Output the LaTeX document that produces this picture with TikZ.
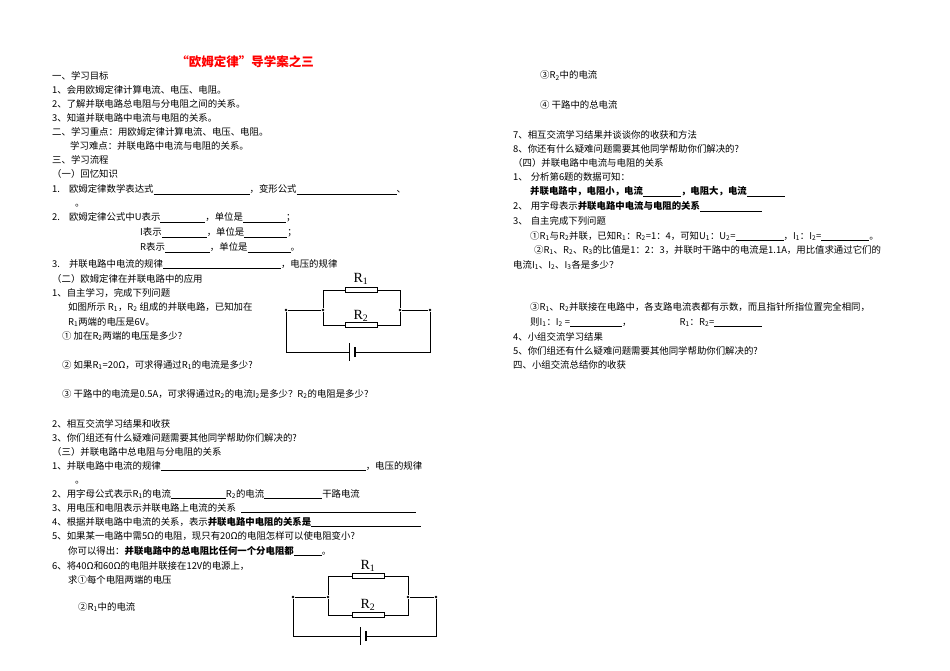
\documentclass[tikz,border=0pt]{standalone}
\usepackage{fontspec}
\setmainfont{Noto Sans CJK SC}
\newfontfamily\rfont{Liberation Serif}
\newcommand{\ssb}[1]{\textsubscript{#1}}
\newcommand{\bl}[1]{\rule[-1.5pt]{#1pt}{0.5pt}}
\newcommand{\T}[4]{\node[tx] (#1) at (#2,#3) {#4};}
\begin{document}
\begin{tikzpicture}[x=1pt,y=-1pt,
 tx/.style={anchor=base west,inner sep=0pt,font=\fontsize{9.4}{10}\selectfont},
 res/.style={draw,thick,fill=white,minimum width=32pt,minimum height=5pt,inner sep=0pt},
 dot/.style={circle,fill,inner sep=1pt},
 rl/.style={font=\rfont\fontsize{14}{14}\selectfont,inner sep=0pt},
 wire/.style={line width=0.8pt}]
\useasboundingbox (0,0) rectangle (950,671);
\node[font=\bfseries\fontsize{12.5}{13}\selectfont,text=red] (title) at (245,62) {“欧姆定律”导学案之三};
\T{a1}{52}{80}{一、学习目标}
\T{a2}{52}{94}{1、会用欧姆定律计算电流、电压、电阻。}
\T{a3}{52}{108}{2、了解并联电路总电阻与分电阻之间的关系。}
\T{a4}{52}{122}{3、知道并联电路中电流与电阻的关系。}
\T{a5}{52}{136}{二、学习重点：用欧姆定律计算电流、电压、电阻。}
\T{a6}{70}{150}{学习难点：并联电路中电流与电阻的关系。}
\T{a7}{52}{164}{三、学习流程}
\T{a8}{52}{178}{（一）回忆知识}
\T{a9}{52}{193}{1.\hspace{9pt}欧姆定律数学表达式\bl{96}，变形公式\bl{100}、}
\T{a10}{75}{207}{。}
\T{a11}{52}{221}{2.\hspace{9pt}欧姆定律公式中U表示\bl{45}，单位是\bl{43}；}
\T{a12}{140}{236}{I表示\bl{45}，单位是\bl{43}；}
\T{a13}{140}{251}{R表示\bl{45}，单位是\bl{43}。}
\T{a14}{52}{267}{3.\hspace{9pt}并联电路中电流的规律\bl{118}，电压的规律}
\T{a15}{52}{282}{（二）欧姆定律在并联电路中的应用}
\T{a16}{52}{296}{1、自主学习，完成下列问题}
\T{a17}{68}{310}{如图所示 R\ssb1，R\ssb2 组成的并联电路，已知加在}
\T{a18}{68}{325}{R\ssb1两端的电压是6V。}
\T{a19}{62}{339}{① 加在R\ssb2两端的电压是多少?}
\T{a20}{62}{368}{② 如果R\ssb1=20Ω，可求得通过R\ssb1的电流是多少?}
\T{a21}{62}{397}{③ 干路中的电流是0.5A，可求得通过R\ssb2的电流I\ssb2是多少？R\ssb2的电阻是多少?}
\T{a22}{52}{427}{2、相互交流学习结果和收获}
\T{a23}{52}{441}{3、你们组还有什么疑难问题需要其他同学帮助你们解决的?}
\T{a24}{52}{455}{（三）并联电路中总电阻与分电阻的关系}
\T{a25}{52}{469}{1、并联电路中电流的规律\bl{205}，电压的规律}
\T{a26}{75}{483}{。}
\T{a27}{52}{497}{2、用字母公式表示R\ssb1的电流\bl{55}R\ssb2的电流\bl{58}干路电流}
\T{a28}{52}{511}{3、用电压和电阻表示并联电路上电流的关系\hspace{5pt}\bl{175}}
\T{a29}{52}{525}{4、根据并联电路中电流的关系，表示\textbf{并联电路中电阻的关系是}\bl{110}}
\T{a30}{52}{539}{5、如果某一电路中需5Ω的电阻，现只有20Ω的电阻怎样可以使电阻变小?}
\T{a31}{68}{554}{你可以得出：\textbf{并联电路中的总电阻比任何一个分电阻都}\bl{28}。}
\T{a32}{52}{569}{6、将40Ω和60Ω的电阻并联接在12V的电源上，}
\T{a33}{68}{583}{求①每个电阻两端的电压}
\T{a34}{78}{610}{②R\ssb1中的电流}
\T{b1}{540}{79}{③R\ssb2中的电流}
\T{b2}{540}{109}{④ 干路中的总电流}
\T{b3}{513}{139}{7、相互交流学习结果并谈谈你的收获和方法}
\T{b4}{513}{153}{8、你还有什么疑难问题需要其他同学帮助你们解决的?}
\T{b5}{513}{167}{（四）并联电路中电流与电阻的关系}
\T{b6}{513}{181}{1、\hspace{3pt}分析第6题的数据可知：}
\T{b7}{530}{195}{\textbf{并联电路中，电阻小，电流\bl{38}，电阻大，电流\bl{38}}}
\T{b8}{513}{210}{2、\hspace{3pt}用字母表示\textbf{并联电路中电流与电阻的关系}\bl{62}}
\T{b9}{513}{224}{3、\hspace{3pt}自主完成下列问题}
\T{b10}{530}{239}{①R\ssb1与R\ssb2并联，已知R\ssb1：R\ssb2=1：4，可知U\ssb1：U\ssb2=\bl{48}，I\ssb1：I\ssb2=\bl{48}。}
\T{b11}{534}{253}{②R\ssb1、R\ssb2、R\ssb3的比值是1：2：3，并联时干路中的电流是1.1A，用比值求通过它们的}
\T{b12}{513}{268}{电流I\ssb1、I\ssb2、I\ssb3各是多少？}
\T{b13}{530}{310}{③R\ssb1、R\ssb2并联接在电路中，各支路电流表都有示数，而且指针所指位置完全相同，}
\T{b14}{530}{325}{则I\ssb1：I\ssb2 =\bl{52}，\hspace{48pt}R\ssb1：R\ssb2=\bl{48}}
\T{b15}{513}{340}{4、小组交流学习结果}
\T{b16}{513}{354}{5、你们组还有什么疑难问题需要其他同学帮助你们解决的?}
\T{b17}{513}{368}{四、小组交流总结你的收获}
% circuit 1
\node[dot] (c1l) at (286,310) {}; \node[dot] (c1a) at (323,310) {};
\node[dot] (c1b) at (400,310) {}; \node[dot] (c1r) at (430,310) {};
\node[res] (c1r1) at (361,290) {}; \node[res] (c1r2) at (361,325) {};
\node[rl] (c1t1) at (361,279) {R\textsubscript{1}}; \node[rl] (c1t2) at (361,316) {R\textsubscript{2}};
\coordinate (c1bat) at (352,352);
\draw[wire] (c1l)--(c1a) |- (c1r1) -- (c1r1 -| c1b) -- (c1b) -- (c1r);
\draw[wire] (c1a) |- (c1r2) -- (c1r2 -| c1b) -- (c1b);
\draw[wire] (c1l) |- ([xshift=-3pt]c1bat) ++(0,-9) -- ++(0,18);
\draw[wire] (c1r) |- ([xshift=3pt]c1bat);
\draw[line width=1.8pt] ([xshift=3pt,yshift=-5]c1bat) -- ([xshift=3pt,yshift=5]c1bat);
% circuit 2
\node[dot] (c2l) at (293,597) {}; \node[dot] (c2a) at (328,597) {};
\node[dot] (c2b) at (408,597) {}; \node[dot] (c2r) at (436,597) {};
\node[res] (c2r1) at (368,576) {}; \node[res] (c2r2) at (368,615) {};
\node[rl] (c2t1) at (368,566) {R\textsubscript{1}}; \node[rl] (c2t2) at (368,605) {R\textsubscript{2}};
\coordinate (c2bat) at (363,636);
\draw[wire] (c2l)--(c2a) |- (c2r1) -- (c2r1 -| c2b) -- (c2b) -- (c2r);
\draw[wire] (c2a) |- (c2r2) -- (c2r2 -| c2b) -- (c2b);
\draw[wire] (c2l) |- ([xshift=-3pt]c2bat) ++(0,-9) -- ++(0,18);
\draw[wire] (c2r) |- ([xshift=3pt]c2bat);
\draw[line width=1.8pt] ([xshift=3pt,yshift=-5]c2bat) -- ([xshift=3pt,yshift=5]c2bat);
\end{tikzpicture}
\end{document}
